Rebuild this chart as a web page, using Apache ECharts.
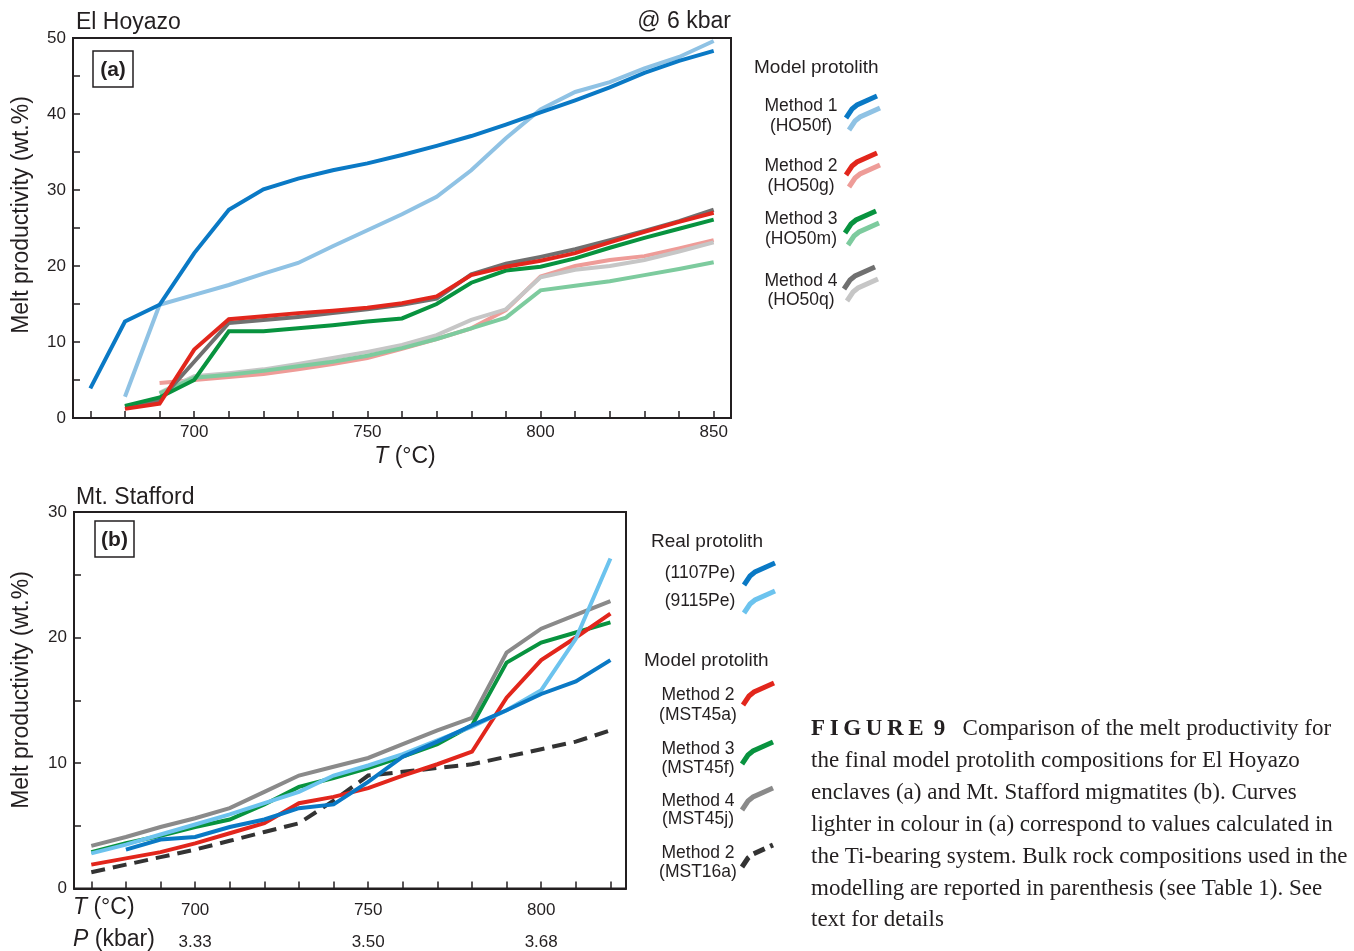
<!DOCTYPE html>
<html>
<head>
<meta charset="utf-8">
<script src="https://cdn.jsdelivr.net/npm/echarts@6/dist/echarts.min.js"></script>
<style>
  html, body { margin: 0; padding: 0; background: #fff; }
  #chart { width: 1354px; height: 951px; }
</style>
</head>
<body>
<div id="chart"></div>
<script>
// panel (a) El Hoyazo, 6 kbar
const tempA = [670, 680, 690, 700, 710, 720, 730, 740, 750, 760, 770, 780, 790, 800, 810, 820, 830, 840, 850]
const ho50f   = [3.9, 12.7, 14.9, 21.7, 27.4, 30.1, 31.5, 32.6, 33.5, 34.6, 35.8, 37.1, 38.6, 40.2, 41.8, 43.5, 45.4, 47.0, 48.3]
const ho50fTi = [null, 2.8, 14.9, 16.2, 17.5, 19.0, 20.4, 22.6, 24.7, 26.8, 29.1, 32.6, 36.8, 40.6, 42.9, 44.2, 46.0, 47.5, 49.6]
const ho50g   = [null, 1.2, 1.9, 9.0, 13.0, 13.4, 13.8, 14.1, 14.5, 15.1, 16.0, 18.8, 19.9, 20.7, 21.7, 23.1, 24.5, 25.8, 27.0]
const ho50gTi = [null, null, 4.6, 5.0, 5.4, 5.8, 6.4, 7.1, 7.9, 9.1, 10.4, 11.8, 14.2, 18.6, 20.0, 20.8, 21.3, 22.3, 23.4]
const ho50m   = [null, 1.6, 2.7, 5.0, 11.4, 11.4, 11.8, 12.2, 12.7, 13.1, 15.0, 17.8, 19.4, 19.9, 21.0, 22.4, 23.7, 24.9, 26.1]
const ho50mTi = [null, null, 3.2, 5.3, 5.7, 6.2, 6.8, 7.4, 8.2, 9.2, 10.4, 11.8, 13.2, 16.8, 17.4, 18.0, 18.8, 19.6, 20.5]
const ho50q   = [null, 1.5, 2.3, 7.4, 12.5, 12.9, 13.3, 13.8, 14.3, 14.9, 15.7, 18.9, 20.3, 21.2, 22.2, 23.4, 24.6, 25.9, 27.4]
const ho50qTi = [null, null, 3.3, 5.5, 5.9, 6.4, 7.1, 7.9, 8.7, 9.6, 10.9, 12.9, 14.3, 18.5, 19.5, 20.0, 20.8, 21.9, 23.1]
const tickLabelsA = [700, 750, 800, 850]

// panel (b) Mt. Stafford
const tempB = [670, 680, 690, 700, 710, 720, 730, 740, 750, 760, 770, 780, 790, 800, 810, 820]
const pe1107 = [null, 3.1, 3.9, 4.1, 4.9, 5.5, 6.4, 6.7, 8.5, 10.5, 11.7, 13.0, 14.2, 15.5, 16.5, 18.2]
const pe9115 = [2.8, 3.5, 4.3, 5.1, 5.9, 6.8, 7.7, 9.0, 9.8, 10.7, 11.8, 12.9, 14.2, 15.8, 19.9, 26.3]
const mst45a = [1.9, 2.4, 2.9, 3.6, 4.4, 5.2, 6.8, 7.3, 8.0, 9.0, 9.9, 10.9, 15.2, 18.2, 20.0, 21.9]
const mst45f = [2.9, 3.6, 4.2, 4.9, 5.5, 6.7, 8.1, 8.8, 9.6, 10.5, 11.5, 13.0, 18.0, 19.6, 20.4, 21.2]
const mst45j = [3.4, 4.1, 4.9, 5.6, 6.4, 7.7, 9.0, 9.7, 10.4, 11.5, 12.6, 13.6, 18.8, 20.7, 21.8, 22.9]
const mst16a = [1.3, 1.9, 2.5, 3.1, 3.8, 4.5, 5.2, 7.0, 9.0, 9.3, 9.6, 9.9, 10.5, 11.1, 11.7, 12.6]
const tickLabelsB = [700, 750, 800]
const pressureLabelsB = ['3.33', '3.50', '3.68']

const INK = '#231f20'
const SANS = '"Liberation Sans", Arial, sans-serif'
const SERIF = '"Liberation Serif", "Times New Roman", serif'

const C = {
    blue: '#0a79c5', blueL: '#8fc2e4', sky: '#6cc3ee',
    red: '#e2261c', redL: '#ee9c98',
    green: '#08933f', greenL: '#7dcb9e',
    gray: '#707070', grayL: '#c6c6c6', grayB: '#8a8a8a',
    dash: '#333333'
}

function pairs(xs, ys) {
    return xs.map((x, i) => [x, ys[i]])
}

function line(name, xs, ys, color, idx, dashed) {
    return {
        name: name,
        type: 'line',
        xAxisIndex: idx,
        yAxisIndex: idx,
        data: pairs(xs, ys),
        showSymbol: false,
        symbol: 'none',
        connectNulls: false,
        lineStyle: { color: color, width: 4, type: dashed ? [14, 8] : 'solid', cap: 'butt', join: 'miter' },
        z: 2
    }
}

function txt(x, y, text, size, opts) {
    opts = opts || {}
    return {
        type: 'text',
        x: x,
        y: y,
        rotation: opts.rotation || 0,
        style: {
            text: text,
            fill: INK,
            font: (opts.weight || 'normal') + ' ' + size + 'px ' + (opts.family || SANS),
            align: opts.align || 'left',
            verticalAlign: 'middle',
            rich: opts.rich
        }
    }
}

// little bent legend stroke
function icon(x, y, color, dashed) {
    return {
        type: 'polyline',
        shape: { points: [[x, y], [x + 6, y - 9], [x + 11, y - 13], [x + 31, y - 22]] },
        style: { stroke: color, lineWidth: 5, fill: null, lineDash: dashed ? [12, 6] : null }
    }
}

function box(x, y, w, h, label) {
    return [
        { type: 'rect', shape: { x: x, y: y, width: w, height: h }, style: { fill: '#fff', stroke: INK, lineWidth: 1.5 }, z: 10 },
        Object.assign(txt(x + w / 2, y + h / 2 + 1, label, 21, { align: 'center', weight: 'bold' }), { z: 11 })
    ]
}

const italicRich = {
    i: { fontStyle: 'italic', fontSize: 23, fontFamily: SANS, fill: INK }
}

function xAxisBase(idx, min, max, ticks) {
    return {
        type: 'value',
        gridIndex: idx,
        min: min,
        max: max,
        axisLine: { show: true, lineStyle: { color: INK, width: 2 } },
        axisTick: { show: true, inside: true, length: 7, customValues: ticks, lineStyle: { color: INK, width: 1.5 } },
        splitLine: { show: false }
    }
}

function yAxisBase(idx, max, labels) {
    return {
        type: 'value',
        gridIndex: idx,
        min: 0,
        max: max,
        interval: 5,
        axisLine: { show: true, lineStyle: { color: INK, width: 2 } },
        axisTick: { show: true, inside: true, length: 7, lineStyle: { color: INK, width: 1.5 } },
        axisLabel: { customValues: labels, color: INK, fontSize: 17, fontFamily: SANS, margin: 7 },
        splitLine: { show: false }
    }
}

const chart = echarts.init(document.getElementById('chart'))

const option = {
    backgroundColor: '#fff',
    animation: false,
    grid: [
        { left: 73, top: 38, width: 658, height: 380, show: true, borderColor: INK, borderWidth: 2, backgroundColor: 'transparent' },
        { left: 74, top: 512, width: 552, height: 381, show: true, borderColor: INK, borderWidth: 2, backgroundColor: 'transparent' }
    ],
    xAxis: [
        Object.assign(xAxisBase(0, 665, 855, tempA), {
            axisLabel: { customValues: tickLabelsA, color: INK, fontSize: 17, fontFamily: SANS, margin: 6 }
        }),
        Object.assign(xAxisBase(1, 665, 824.5, tempB), {
            axisLabel: {
                customValues: tickLabelsB,
                margin: 6,
                formatter: v => '{t|' + v + '}\n{p|' + pressureLabelsB[tickLabelsB.indexOf(v)] + '}',
                rich: {
                    t: { fontSize: 17, fontFamily: SANS, color: INK, lineHeight: 32 },
                    p: { fontSize: 17, fontFamily: SANS, color: INK, lineHeight: 32 }
                }
            }
        })
    ],
    yAxis: [
        yAxisBase(0, 50, [0, 10, 20, 30, 40, 50]),
        yAxisBase(1, 30, [0, 10, 20, 30])
    ],
    series: [
        // Ti-bearing (lighter) curves go underneath
        line('HO50g Ti', tempA, ho50gTi, C.redL, 0),
        line('HO50q Ti', tempA, ho50qTi, C.grayL, 0),
        line('HO50m Ti', tempA, ho50mTi, C.greenL, 0),
        line('HO50f Ti', tempA, ho50fTi, C.blueL, 0),
        line('HO50q', tempA, ho50q, C.gray, 0),
        line('HO50m', tempA, ho50m, C.green, 0),
        line('HO50g', tempA, ho50g, C.red, 0),
        line('HO50f', tempA, ho50f, C.blue, 0),

        line('MST16a', tempB, mst16a, C.dash, 1, true),
        line('MST45j', tempB, mst45j, C.grayB, 1),
        line('MST45f', tempB, mst45f, C.green, 1),
        line('MST45a', tempB, mst45a, C.red, 1),
        line('9115Pe', tempB, pe9115, C.sky, 1),
        line('1107Pe', tempB, pe1107, C.blue, 1)
    ],
    graphic: [
        // panel a texts
        txt(76, 23, 'El Hoyazo', 23),
        txt(731, 22, '@ 6 kbar', 23, { align: 'right' }),
        ...box(93, 51, 40, 36, '(a)'),
        txt(405, 457, '{i|T} (°C)', 23, { align: 'center', rich: italicRich }),
        txt(22, 215, 'Melt productivity (wt.%)', 23, { align: 'center', rotation: Math.PI / 2 }),
        txt(754, 68, 'Model protolith', 19),
        txt(801, 106, 'Method 1', 17.5, { align: 'center' }),
        txt(801, 126, '(HO50f)', 17.5, { align: 'center' }),
        txt(801, 166, 'Method 2', 17.5, { align: 'center' }),
        txt(801, 186, '(HO50g)', 17.5, { align: 'center' }),
        txt(801, 219, 'Method 3', 17.5, { align: 'center' }),
        txt(801, 239, '(HO50m)', 17.5, { align: 'center' }),
        txt(801, 281, 'Method 4', 17.5, { align: 'center' }),
        txt(801, 300, '(HO50q)', 17.5, { align: 'center' }),
        icon(846, 118, C.blue), icon(849, 130, C.blueL),
        icon(846, 175, C.red), icon(849, 187, C.redL),
        icon(845, 233, C.green), icon(848, 245, C.greenL),
        icon(844, 289, C.gray), icon(847, 301, C.grayL),

        // panel b texts
        txt(76, 498, 'Mt. Stafford', 23),
        ...box(95, 521, 39, 36, '(b)'),
        txt(22, 690, 'Melt productivity (wt.%)', 23, { align: 'center', rotation: Math.PI / 2 }),
        txt(73, 908, '{i|T} (°C)', 23, { rich: italicRich }),
        txt(73, 940, '{i|P} (kbar)', 23, { rich: italicRich }),
        txt(651, 542, 'Real protolith', 19),
        txt(700, 573, '(1107Pe)', 17.5, { align: 'center' }),
        txt(700, 601, '(9115Pe)', 17.5, { align: 'center' }),
        txt(644, 661, 'Model protolith', 19),
        txt(698, 695, 'Method 2', 17.5, { align: 'center' }),
        txt(698, 715, '(MST45a)', 17.5, { align: 'center' }),
        txt(698, 749, 'Method 3', 17.5, { align: 'center' }),
        txt(698, 768, '(MST45f)', 17.5, { align: 'center' }),
        txt(698, 801, 'Method 4', 17.5, { align: 'center' }),
        txt(698, 819, '(MST45j)', 17.5, { align: 'center' }),
        txt(698, 853, 'Method 2', 17.5, { align: 'center' }),
        txt(698, 872, '(MST16a)', 17.5, { align: 'center' }),
        icon(744, 585, C.blue), icon(744, 613, C.sky),
        icon(743, 705, C.red),
        icon(742, 764, C.green),
        icon(742, 810, C.grayB),
        icon(742, 867, C.dash, true),

        // caption
        txt(811, 729, '{b|F\u2009I\u2009G\u2009U\u2009R\u2009E\u2009 9}   Comparison of the melt productivity for', 23, {
            family: SERIF,
            rich: { b: { fontWeight: 'bold', fontSize: 23, fontFamily: SERIF, fill: INK } }
        }),
        txt(811, 761, 'the final model protolith compositions for El Hoyazo', 23, { family: SERIF }),
        txt(811, 793, 'enclaves (a) and Mt. Stafford migmatites (b). Curves', 23, { family: SERIF }),
        txt(811, 825, 'lighter in colour in (a) correspond to values calculated in', 23, { family: SERIF }),
        txt(811, 857, 'the Ti-bearing system. Bulk rock compositions used in the', 23, { family: SERIF }),
        txt(811, 889, 'modelling are reported in parenthesis (see Table 1). See', 23, { family: SERIF }),
        txt(811, 920, 'text for details', 23, { family: SERIF })
    ]
}

chart.setOption(option)
</script>
</body>
</html>
